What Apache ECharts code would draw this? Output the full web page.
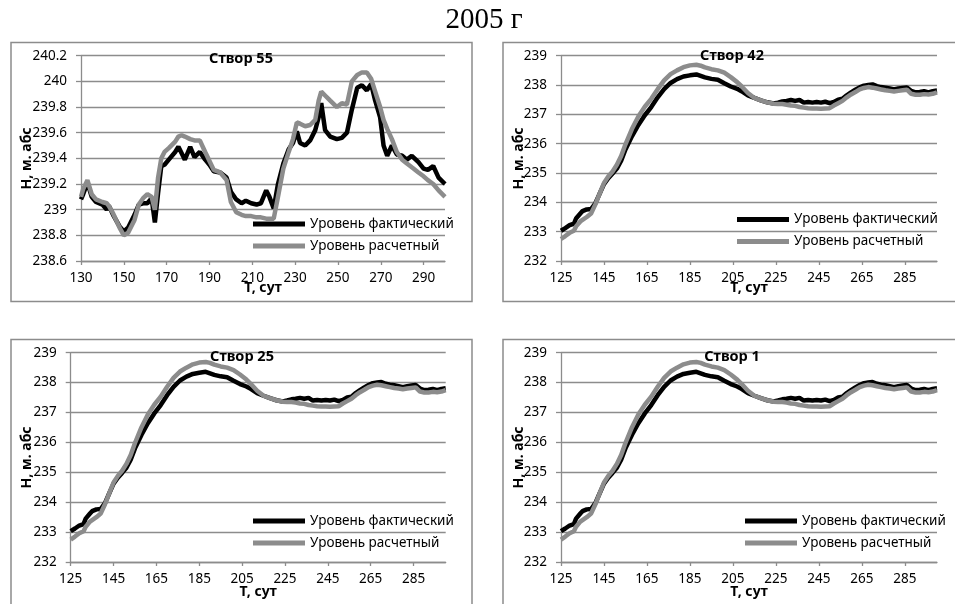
<!DOCTYPE html>
<html>
<head>
<meta charset="utf-8">
<script src="https://cdn.jsdelivr.net/npm/echarts@6/dist/echarts.min.js"></script>
<style>
html,body{margin:0;padding:0;background:#fff;}
#chart{width:955px;height:604px;}
</style>
</head>
<body>
<div id="chart"></div>
<script>
// ---------- DATA ----------
const mainTitle = '2005 г';
const panelTitles = ['Створ 55', 'Створ 42', 'Створ 25', 'Створ 1'];
const seriesNames = ['Уровень фактический', 'Уровень расчетный'];
const xAxisTitle = 'Т, сут';
const yAxisTitle = 'Н, м. абс';

// Створ 55
const days55 = [130,131,133,135,137,140,142,143,145,148,
  150,152,155,157,159,161,163,164.5,166,167.5,
  169,171,174,175.5,177,178.5,181,183,185.5,188,
  190,192,195,198,200,202.5,205,207,209.5,212,
  214,216.5,218,220,222,224.5,227,229,230.8,232.3,
  234.7,237,239.4,241,242.2,244,246.4,249.5,251.8,254.2,
  256.5,259,261.2,263.5,265.5,267.4,269.7,271.3,273,275.2,
  277.5,280,282.2,284.5,287.6,290,292,294.5,297,300];
const fact55 = [239.08,239.12,239.21,239.10,239.06,239.04,239.00,239.03,238.96,238.87,
  238.83,238.86,238.96,239.04,239.05,239.05,239.09,238.90,239.13,239.34,
  239.35,239.39,239.45,239.49,239.44,239.39,239.49,239.41,239.45,239.39,
  239.35,239.30,239.29,239.25,239.14,239.08,239.05,239.07,239.05,239.04,
  239.05,239.15,239.10,239.01,239.20,239.36,239.47,239.52,239.61,239.52,
  239.50,239.54,239.62,239.72,239.83,239.62,239.57,239.55,239.56,239.60,
  239.78,239.95,239.97,239.93,239.98,239.85,239.72,239.50,239.42,239.50,
  239.43,239.42,239.39,239.42,239.37,239.32,239.31,239.34,239.25,239.20];
const calc55 = [239.10,239.16,239.23,239.12,239.08,239.06,239.05,239.03,238.97,238.86,
  238.80,238.82,238.92,239.04,239.09,239.12,239.10,239.00,239.25,239.40,
  239.45,239.48,239.53,239.57,239.58,239.57,239.55,239.54,239.54,239.45,
  239.38,239.31,239.29,239.23,239.06,238.98,238.96,238.95,238.95,238.94,
  238.94,238.93,238.93,238.93,239.10,239.32,239.45,239.55,239.68,239.67,
  239.65,239.66,239.70,239.85,239.92,239.89,239.85,239.80,239.83,239.82,
  240.00,240.05,240.07,240.07,240.02,239.92,239.80,239.70,239.63,239.55,
  239.45,239.39,239.36,239.33,239.29,239.26,239.23,239.20,239.15,239.10];

// Створ 42 / 25 / 1 (identical curves in the reference)
const daysB = [125,127,129,131,132,134,135,137,139,141,
  143,145,147,149,151,153,155,158,161,164,
  167,170,173,176,179,182,185,188,190,192,
  195,198,201,204,207,209,212,215,218,221,
  224,226,228,230,232,234,236,238,240,242,
  244,246,248,250,252,254,256,258,260,262,
  264,266,268,270,272,274,276,278,280,282,
  284,286,288,290,292,294,296,298,300];
const factB = [233.03,233.12,233.22,233.27,233.45,233.62,233.70,233.76,233.77,233.97,
  234.30,234.62,234.82,234.98,235.15,235.42,235.80,236.25,236.64,236.97,
  237.25,237.58,237.86,238.07,238.20,238.29,238.33,238.36,238.31,238.26,
  238.21,238.18,238.06,237.95,237.87,237.79,237.65,237.56,237.48,237.41,
  237.37,237.40,237.44,237.46,237.49,237.46,237.49,237.40,237.42,237.40,
  237.42,237.40,237.43,237.38,237.42,237.50,237.53,237.65,237.75,237.84,
  237.92,237.98,238.00,238.02,237.96,237.93,237.91,237.88,237.85,237.88,
  237.90,237.92,237.80,237.75,237.76,237.79,237.75,237.79,237.81];
const calcB = [232.75,232.85,232.96,233.03,233.18,233.35,233.40,233.50,233.62,233.93,
  234.30,234.66,234.88,235.05,235.28,235.58,235.98,236.50,236.93,237.26,
  237.53,237.86,238.16,238.37,238.50,238.61,238.67,238.69,238.66,238.60,
  238.54,238.50,238.42,238.27,238.10,237.96,237.73,237.56,237.48,237.41,
  237.36,237.35,237.35,237.33,237.30,237.29,237.25,237.23,237.21,237.20,
  237.20,237.19,237.20,237.21,237.30,237.38,237.46,237.58,237.68,237.76,
  237.85,237.90,237.93,237.91,237.88,237.85,237.82,237.80,237.78,237.80,
  237.82,237.84,237.70,237.67,237.67,237.69,237.68,237.70,237.75];

// axis ranges per panel
const xMin = [130, 125, 125, 125];
const xMax = [300, 300, 300, 300];
const yMin = [238.6, 232, 232, 232];
const yMax = [240.2, 239, 239, 239];
const yStep = [0.2, 1, 1, 1];
const xStep = 20;

// ---------- LAYOUT / STYLE ----------
const FONT = 'Noto Sans';
const FS = 13.5;
const gridC = '#8c8c8c';
const panelData = [
  {days: days55, fact: fact55, calc: calc55},
  {days: daysB, fact: factB, calc: calcB},
  {days: daysB, fact: factB, calc: calcB},
  {days: daysB, fact: factB, calc: calcB}
];
const grids = [
  {left: 81, top: 55.7, width: 364, height: 205.3},
  {left: 561, top: 55.7, width: 376, height: 205.3},
  {left: 70.7, top: 352.7, width: 375, height: 209.3},
  {left: 561, top: 352.7, width: 376, height: 209.3}
];
const yNameGap = [47, 35, 36.5, 35];
const xNameGap = [20, 20, 23, 23];
const boxes = [
  {x: 11, y: 42.5, w: 461, h: 259},
  {x: 503, y: 42.5, w: 470, h: 259},
  {x: 11, y: 339.5, w: 461, h: 280},
  {x: 503, y: 339.5, w: 470, h: 280}
];
const titlePos = [[241, 59], [732, 56], [242, 357], [732, 357]];
const legendPos = [[253, 217], [737, 212.5], [253, 514], [745, 514]];

function zip(xs, ys) { return xs.map((x, i) => [x, ys[i]]); }

const xAxes = [], yAxes = [], series = [], legends = [], graphics = [];
for (let i = 0; i < 4; i++) {
  xAxes.push({
    type: 'value', gridIndex: i, min: xMin[i], max: xMax[i], interval: xStep,
    name: xAxisTitle, nameLocation: 'middle', nameGap: xNameGap[i], nameMoveOverlap: false,
    nameTextStyle: {fontFamily: FONT, fontSize: 14, fontWeight: 'bold', color: '#000'},
    axisLine: {show: true, onZero: false, lineStyle: {color: gridC, width: 1.3}},
    axisTick: {show: true, length: 4, lineStyle: {color: gridC, width: 1.3}},
    axisLabel: {fontFamily: FONT, fontSize: FS, color: '#000', margin: 10, showMaxLabel: false},
    splitLine: {show: false}
  });
  yAxes.push({
    type: 'value', gridIndex: i, min: yMin[i], max: yMax[i], interval: yStep[i],
    name: yAxisTitle, nameLocation: 'middle', nameRotate: 90, nameGap: yNameGap[i], nameMoveOverlap: false,
    nameTextStyle: {fontFamily: FONT, fontSize: 14, fontWeight: 'bold', color: '#000'},
    axisLine: {show: true, lineStyle: {color: gridC, width: 1.3}},
    axisTick: {show: true, length: 5, lineStyle: {color: gridC, width: 1.3}},
    axisLabel: {fontFamily: FONT, fontSize: FS, color: '#000', margin: 14},
    splitLine: {show: true, lineStyle: {color: gridC, width: 1.3}}
  });
  const d = panelData[i];
  series.push({
    name: seriesNames[0], type: 'line', xAxisIndex: i, yAxisIndex: i,
    data: zip(d.days, d.fact), showSymbol: false, symbol: 'none',
    color: '#000', lineStyle: {color: '#000', width: 4.5}, z: 3
  });
  series.push({
    name: seriesNames[1], type: 'line', xAxisIndex: i, yAxisIndex: i,
    data: zip(d.days, d.calc), showSymbol: false, symbol: 'none',
    color: '#8c8c8c', lineStyle: {color: '#8c8c8c', width: 4.5}, z: 4
  });
  legends.push({
    left: legendPos[i][0], top: legendPos[i][1], orient: 'vertical',
    padding: 0, itemGap: 8, itemWidth: 52, itemHeight: 5, icon: 'rect',
    selectedMode: false, data: seriesNames,
    textStyle: {fontFamily: FONT, fontSize: FS, color: '#000'}
  });
  graphics.push({
    type: 'rect', shape: {x: boxes[i].x, y: boxes[i].y, width: boxes[i].w, height: boxes[i].h},
    style: {fill: 'none', stroke: '#8c8c8c', lineWidth: 1.5}, z: -10, silent: true
  });
  graphics.push({
    type: 'text', x: titlePos[i][0], y: titlePos[i][1], z: 10,
    style: {text: panelTitles[i], fontFamily: FONT, fontSize: 14.5, fontWeight: 'bold',
      fill: '#000', textAlign: 'center', textVerticalAlign: 'middle'}
  });
}
graphics.push({
  type: 'text', x: 484, y: 20,
  style: {text: mainTitle, fontFamily: 'Liberation Serif', fontSize: 29, fill: '#000',
    textAlign: 'center', textVerticalAlign: 'middle'}
});

const chart = echarts.init(document.getElementById('chart'), null, {renderer: 'canvas'});
chart.setOption({
  animation: false,
  backgroundColor: '#fff',
  grid: grids,
  xAxis: xAxes,
  yAxis: yAxes,
  series: series,
  legend: legends,
  graphic: graphics
});
</script>
</body>
</html>
